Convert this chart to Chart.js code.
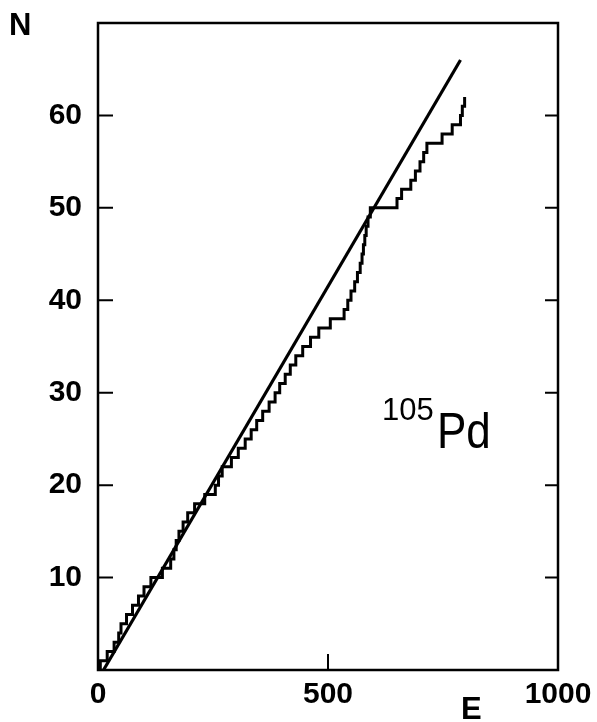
<!DOCTYPE html>
<html>
<head>
<meta charset="utf-8">
<script src="https://cdn.jsdelivr.net/npm/chart.js@4.4.1/dist/chart.umd.min.js"></script>
<style>
  html, body { margin: 0; padding: 0; background: #fff; }
  #wrap { width: 597px; height: 722px; }
</style>
</head>
<body>
<div id="wrap"><canvas id="Chart-pd" width="597" height="722"></canvas></div>
<script>
// level energies (level i+1 reached at LEVEL_E[i])
const LEVEL_E = [5, 20, 35, 45, 50, 62, 75, 88, 100, 115,
    140, 158, 165, 170, 176, 185, 195, 210, 232, 255,
    262, 270, 290, 305, 320, 333, 345, 358, 372, 385,
    395, 407, 418, 430, 445, 462, 480, 505, 535, 543,
    550, 558, 564, 570, 574, 577, 580, 583, 587, 592,
    650, 660, 680, 690, 700, 708, 715, 748, 770, 788,
    792, 797]
// straight line (fit)
const FIT_E = [12, 788]
const FIT_N = [0, 66]

const X_TICKS = [0, 500, 1000]
const Y_TICKS = [10, 20, 30, 40, 50, 60]
const X_MAX = 1000
const Y_MAX = 70

let escalera = [{x: 0, y: 0}]
for (let i = 0; i < LEVEL_E.length; i++) {
    escalera.push({x: LEVEL_E[i], y: i + 1})
}
let recta = FIT_E.map((e, i) => ({x: e, y: FIT_N[i]}))

const FUENTE = "'Liberation Sans', Arial, sans-serif"
Chart.defaults.font.family = FUENTE
Chart.defaults.color = "#000"

// frame, inward ticks and texts
const marco = {
    id: "marco",
    afterDraw(chart) {
        const ctx = chart.ctx
        const {left, right, top, bottom} = chart.chartArea
        const sx = chart.scales.x, sy = chart.scales.y
        ctx.save()
        ctx.strokeStyle = "#000"
        ctx.lineWidth = 2.5
        ctx.strokeRect(left, top, right - left, bottom - top)

        ctx.lineWidth = 2
        ctx.beginPath()
        for (let v of Y_TICKS) {
            let py = sy.getPixelForValue(v)
            ctx.moveTo(left, py); ctx.lineTo(left + 15, py)
            ctx.moveTo(right - 13, py); ctx.lineTo(right, py)
        }
        for (let v of X_TICKS) {
            if (v == 0 || v == X_MAX) continue
            let px = sx.getPixelForValue(v)
            ctx.moveTo(px, bottom); ctx.lineTo(px, bottom - 16)
        }
        ctx.stroke()

        ctx.fillStyle = "#000"
        ctx.textBaseline = "alphabetic"
        ctx.font = "bold 31px " + FUENTE
        ctx.fillText("N", 9, 35)
        ctx.fillText("E", 461, 719)
        ctx.font = "31px " + FUENTE
        ctx.fillText("105", 382, 420)
        // "Pd" a bit condensed like the original lettering
        ctx.font = "50px " + FUENTE
        ctx.translate(437, 448)
        ctx.scale(0.88, 1)
        ctx.fillText("Pd", 0, 0)
        ctx.restore()
    }
}

new Chart(document.getElementById("Chart-pd").getContext("2d"), {
    type: "line",
    data: {
        datasets: [{
                label: "N(E)",
                data: escalera,
                stepped: "before",
                borderColor: "#000",
                borderWidth: 3,
                pointRadius: 0,
                fill: false
            },
            {
                label: "fit",
                data: recta,
                borderColor: "#000",
                borderWidth: 3.2,
                pointRadius: 0,
                fill: false
            }
        ]
    },
    options: {
        responsive: false,
        animation: false,
        devicePixelRatio: 1,
        layout: {padding: {left: 0, right: 39, top: 23, bottom: 0}},
        plugins: {legend: {display: false}, tooltip: {enabled: false}},
        scales: {
            x: {
                type: "linear",
                min: 0,
                max: X_MAX,
                afterBuildTicks: (s) => { s.ticks = X_TICKS.map(v => ({value: v})) },
                afterFit: (s) => { s.height = 52; s.paddingLeft = 0; s.paddingRight = 0 },
                grid: {display: false, drawTicks: false},
                border: {display: false},
                ticks: {
                    padding: 7,
                    maxRotation: 0,
                    autoSkip: false,
                    callback: (v) => String(v),
                    font: {size: 30, weight: "bold"}
                }
            },
            y: {
                type: "linear",
                min: 0,
                max: Y_MAX,
                afterBuildTicks: (s) => { s.ticks = Y_TICKS.map(v => ({value: v})) },
                afterFit: (s) => { s.width = 98; s.paddingTop = 0; s.paddingBottom = 0 },
                grid: {display: false, drawTicks: false},
                border: {display: false},
                ticks: {
                    padding: 16,
                    autoSkip: false,
                    callback: (v) => String(v),
                    font: {size: 30, weight: "bold"}
                }
            }
        }
    },
    plugins: [marco]
});
</script>
</body>
</html>
